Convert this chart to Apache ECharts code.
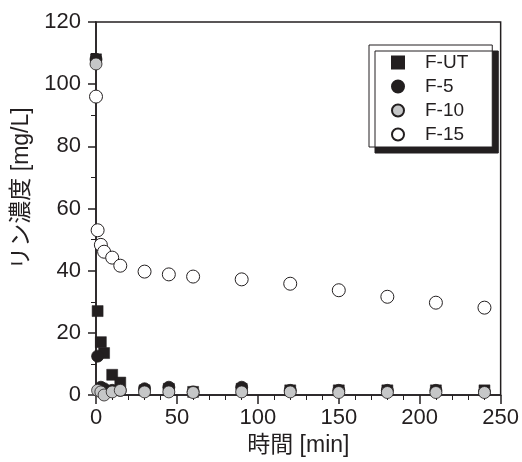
<!DOCTYPE html>
<html>
<head>
<meta charset="utf-8">
<script src="https://cdn.jsdelivr.net/npm/echarts@6/dist/echarts.min.js"></script>
<style>
  html, body { margin: 0; padding: 0; background: #fff; }
  #chart { width: 522px; height: 462px; }
</style>
</head>
<body>
<div id="chart"></div>
<script>
// sampling times [min]
const times = [0, 1, 3, 5, 10, 15, 30, 45, 60, 90, 120, 150, 180, 210, 240]

// phosphorus concentration [mg/L]
const fUT = [108, 27, 17, 13.5, 6.5, 4, 1.5, 2, 1, 2, 1.5, 1.5, 1.5, 1.5, 1.5]
const f5 = [108, 12.5, 2.5, 2, 1.5, 1.5, 2, 2.5, 1, 2.5, 1.5, 1.5, 1.5, 1.5, 1]
const f10 = [106.5, 1.5, 1, 0, 1, 1.5, 1, 1, 0.8, 1, 1, 0.8, 0.8, 0.8, 0.8]
const f15 = [96, 53, 48.3, 46.1, 44.2, 41.6, 39.7, 38.8, 38.1, 37.2, 35.8, 33.7, 31.6, 29.7, 28.1]

const seriesNames = ['F-UT', 'F-5', 'F-10', 'F-15']

const ink = '#231f20'
const font = '"Liberation Sans", Arial, "Noto Sans CJK JP", sans-serif'

const pairs = (ys) => times.map((t, i) => [t, ys[i]])

const chart = echarts.init(document.getElementById('chart'))

chart.setOption({
  animation: false,
  textStyle: {fontFamily: font, color: ink},
  grid: {
    left: 96, top: 22, right: 21, bottom: 67,
    show: true, borderColor: ink, borderWidth: 1.5, backgroundColor: 'transparent',
  },
  legend: {
    orient: 'vertical',
    left: 369, top: 45,
    padding: [8, 24, 3, 22],
    itemGap: 5,
    itemWidth: 12,
    itemHeight: 12,
    backgroundColor: '#fff',
    borderColor: ink,
    borderWidth: 1,
    borderRadius: 0,
    shadowColor: ink,
    shadowBlur: 0,
    shadowOffsetX: 6,
    shadowOffsetY: 6,
    textStyle: {fontSize: 19, color: ink, fontFamily: font, padding: [0, 0, 0, 16]},
    data: seriesNames,
  },
  xAxis: {
    type: 'value',
    min: 0, max: 250, interval: 50,
    name: '時間 [min]',
    nameLocation: 'middle',
    nameGap: 38,
    nameTextStyle: {fontSize: 23, color: ink, fontFamily: font},
    axisLine: {lineStyle: {color: ink, width: 1.5}},
    axisTick: {inside: false, length: 9, lineStyle: {color: ink, width: 1.5}},
    minorTick: {show: true, splitNumber: 5, length: 5, lineStyle: {color: ink, width: 1}},
    axisLabel: {fontSize: 22, color: ink, margin: 12, fontFamily: font},
    splitLine: {show: false},
  },
  yAxis: {
    type: 'value',
    min: 0, max: 120, interval: 20,
    name: 'リン濃度 [mg/L]',
    nameLocation: 'middle',
    nameGap: 59,
    nameTextStyle: {fontSize: 23, color: ink, fontFamily: font, padding: [0, 0, 0, 40]},
    axisLine: {show: true, lineStyle: {color: ink, width: 1.5}},
    axisTick: {show: true, inside: false, length: 8, lineStyle: {color: ink, width: 1.5}},
    minorTick: {show: true, splitNumber: 2, length: 5, lineStyle: {color: ink, width: 1}},
    axisLabel: {fontSize: 22, color: ink, margin: 15, fontFamily: font},
    splitLine: {show: false},
  },
  series: [
    {
      name: 'F-UT', type: 'scatter', symbol: 'rect', symbolSize: 11, clip: false,
      itemStyle: {color: ink, borderColor: ink, borderWidth: 0.5, opacity: 1},
      data: pairs(fUT),
    },
    {
      name: 'F-5', type: 'scatter', symbol: 'circle', symbolSize: 12, clip: false,
      itemStyle: {color: ink, borderColor: ink, borderWidth: 0.8, opacity: 1},
      data: pairs(f5),
    },
    {
      name: 'F-10', type: 'scatter', symbol: 'circle', symbolSize: 12, clip: false,
      itemStyle: {color: '#c6c7c8', borderColor: ink, borderWidth: 0.8, opacity: 1},
      data: pairs(f10),
    },
    {
      name: 'F-15', type: 'scatter', symbol: 'circle', symbolSize: 13, clip: false,
      itemStyle: {color: '#fff', borderColor: ink, borderWidth: 1, opacity: 1},
      data: pairs(f15),
    },
  ],
})
</script>
</body>
</html>
